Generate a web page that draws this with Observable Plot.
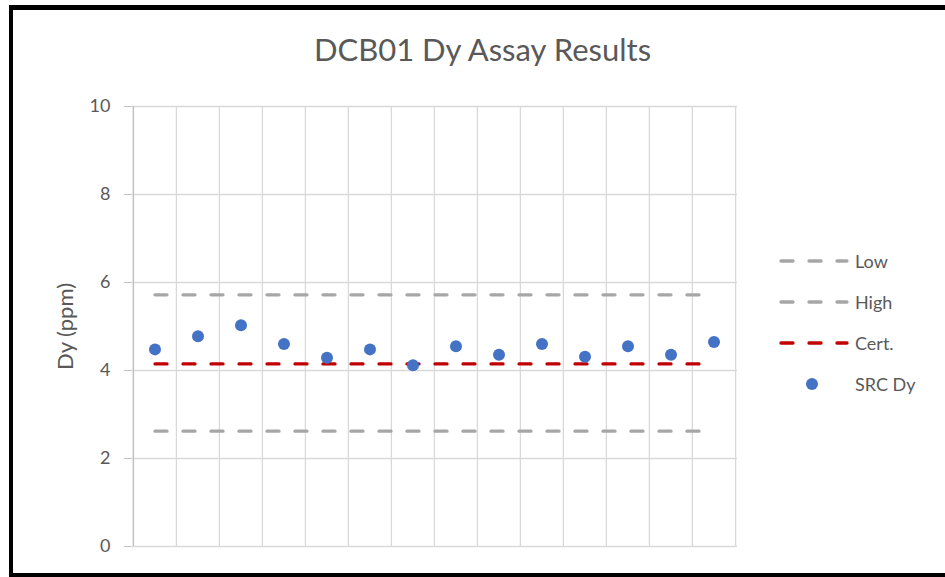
<!DOCTYPE html>
<html>
<head>
<meta charset="utf-8">
<script src="https://cdn.jsdelivr.net/npm/d3@7"></script>
<script src="https://cdn.jsdelivr.net/npm/@observablehq/plot@0.6"></script>
<style>
  body { margin: 0; background: #fff; }
  #wrap { position: relative; width: 945px; height: 577px; overflow: hidden; font-family: Lato, "Open Sans", sans-serif; }
  #frame { position: absolute; left: 9px; top: 5px; width: 960px; height: 563px; border-left: 4px solid #000; border-top: 5px solid #000; border-bottom: 4px solid #000; pointer-events: none; }
  #title { position: absolute; left: 0; width: 965px; top: 30px; text-align: center; font-size: 31px; color: #595959; white-space: nowrap; }
  #legend { position: absolute; left: 778px; top: 248px; color: #595959; font-size: 18px; }
  .item { position: relative; height: 41px; width: 160px; }
  .item span { position: absolute; left: 77px; top: 0; line-height: 26px; white-space: nowrap; }
  .item svg { position: absolute; left: 0; top: 0; }
</style>
</head>
<body>
<div id="wrap">
  <div id="title">DCB01 Dy Assay Results</div>
  <div id="chart"></div>
  <div id="legend"></div>
  <div id="frame"></div>
</div>
<script>
// data
const samples = ["1","2","3","4","5","6","7","8","9","10","11","12","13","14"];
const srcDy = [4.48, 4.78, 5.03, 4.60, 4.29, 4.48, 4.12, 4.55, 4.36, 4.60, 4.31, 4.55, 4.36, 4.65];
const lowLimit = 2.62;
const highLimit = 5.72;
const certValue = 4.15;
const yTicks = [0, 2, 4, 6, 8, 10];
const yLabel = "Dy (ppm)";

const grey = "#a6a6a6";
const red = "#c00000";
const blue = "#4472c4";
const dash = "12,16";

const pts = samples.map((s, i) => ({s, v: srcDy[i]}));
const refLine = (v) => samples.map(s => ({s, v}));

const chart = Plot.plot({
  width: 945,
  height: 577,
  marginLeft: 131,
  marginRight: 208,
  marginTop: 106,
  marginBottom: 31,
  style: {fontFamily: "Lato, 'Open Sans', sans-serif", background: "transparent"},
  x: {type: "band", domain: samples, padding: 0, axis: null},
  y: {domain: [0, 10], ticks: yTicks, label: null},
  marks: [
    Plot.gridY(yTicks, {stroke: "#d9d9d9", strokeOpacity: 1, strokeWidth: 1.3}),
    Plot.gridX(samples, {x: d => d, stroke: "#d9d9d9", strokeOpacity: 1, strokeWidth: 1.3, dx: -21.6}),
    Plot.ruleX([0], {x: () => samples[samples.length - 1], stroke: "#d9d9d9", strokeWidth: 1.3, dx: 21.6, y1: 0, y2: 10}),
    Plot.ruleX([0], {x: () => samples[0], stroke: "#bfbfbf", strokeWidth: 1.3, dx: -21.6, y1: 0, y2: 10}),
    Plot.axisY(yTicks, {tickSize: 7, tickPadding: 14, fontSize: 18, color: "#595959", stroke: "#bfbfbf", label: null}),
    Plot.text([yLabel], {frameAnchor: "left", text: d => d, rotate: -90, textAnchor: "middle", dx: -66, fontSize: 22, fill: "#595959"}),
    Plot.line(refLine(lowLimit), {x: "s", y: "v", stroke: grey, strokeWidth: 3.3, strokeDasharray: dash, strokeLinecap: "round"}),
    Plot.line(refLine(highLimit), {x: "s", y: "v", stroke: grey, strokeWidth: 3.3, strokeDasharray: dash, strokeLinecap: "round"}),
    Plot.line(refLine(certValue), {x: "s", y: "v", stroke: red, strokeWidth: 3.3, strokeDasharray: dash, strokeLinecap: "round"}),
    Plot.dot(pts, {x: "s", y: "v", r: 6, fill: blue, stroke: "none"})
  ]
});
document.getElementById("chart").appendChild(chart);

// legend
const legendItems = [
  {label: "Low", type: "line", color: grey},
  {label: "High", type: "line", color: grey},
  {label: "Cert.", type: "line", color: red},
  {label: "SRC Dy", type: "dot", color: blue}
];
const leg = document.getElementById("legend");
legendItems.forEach(it => {
  const div = document.createElement("div");
  div.className = "item";
  const sw = it.type === "line"
    ? `<svg width="72" height="26"><line x1="3" x2="69" y1="13" y2="13" stroke="${it.color}" stroke-width="3.3" stroke-dasharray="12,16" stroke-linecap="round"/></svg>`
    : `<svg width="72" height="26"><circle cx="34" cy="13" r="6" fill="${it.color}"/></svg>`;
  div.innerHTML = sw + `<span>${it.label}</span>`;
  leg.appendChild(div);
});
</script>
</body>
</html>
